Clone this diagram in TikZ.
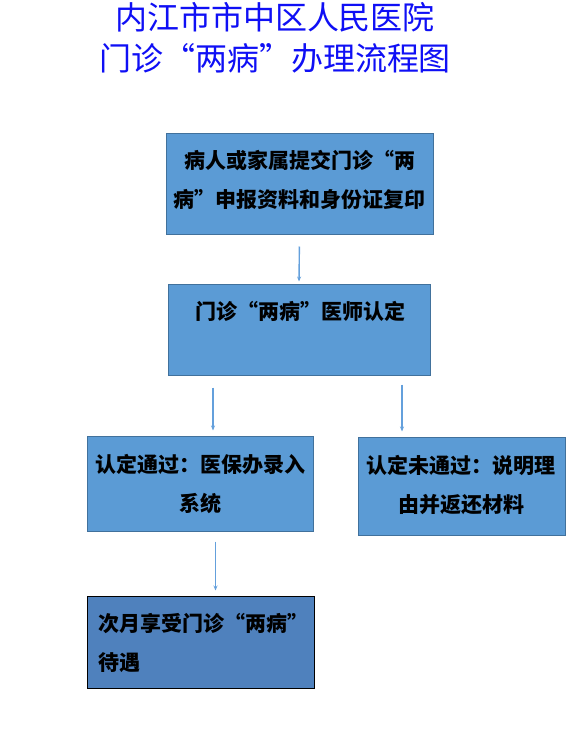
\documentclass[tikz,border=0pt]{standalone}
\usepackage{fontspec}
\newfontfamily\cjk{Noto Sans CJK SC}
\definecolor{boxfill}{RGB}{91,155,213}
\definecolor{boxline}{RGB}{65,113,156}
\definecolor{darkfill}{RGB}{79,129,189}
\definecolor{arrcol}{RGB}{100,160,220}
\definecolor{titleblue}{RGB}{15,15,245}
\usetikzlibrary{arrows.meta}
\begin{document}
\begin{tikzpicture}[x=1pt,y=-1pt,
  box/.style={draw=boxline,line width=1pt,fill=boxfill,inner sep=0},
  boxtxt/.style={inner sep=0,align=center,font=\cjk\bfseries\fontsize{21}{39}\selectfont,text=black},
  arr/.style={draw=arrcol,line width=1.4pt,-{Stealth[length=5pt,width=4pt]}}]
\useasboundingbox (0,0) rectangle (573,747);
% title
\node[inner sep=0,align=center,text=titleblue,font=\cjk\fontsize{32}{41}\selectfont] (title) at (275,37.5)
  {内江市市中区人民医院\\门诊“两病”办理流程图};
% boxes
\node[box,minimum width=267,minimum height=101] (b1) at (299.5,183.5) {};
\node[box,minimum width=262,minimum height=91] (b2) at (299,329.5) {};
\node[box,minimum width=226,minimum height=95] (b3) at (200,483.5) {};
\node[box,minimum width=207,minimum height=98] (b4) at (461.5,486) {};
\node[box,draw=black,fill=darkfill,minimum width=227,minimum height=92] (b5) at (200.5,642) {};
% texts
\node[boxtxt] (t1) at (299.5,179.5) {病人或家属提交门诊“两\\病”申报资料和身份证复印};
\node[boxtxt] (t2) at (300,311) {门诊“两病”医师认定};
\node[boxtxt] (t3) at (200,483.5) {认定通过：医保办录入\\系统};
\node[boxtxt] (t4) at (461,485) {认定未通过：说明理\\由并返还材料};
\node[boxtxt,align=left,anchor=west] (t5) at (98,642.5) {次月享受门诊“两病”\\待遇};
% arrows
\draw[arr,shorten <=12pt,shorten >=2pt] (b1.south) -- (b2.north);
\draw[arr,shorten <=12pt,shorten >=5pt] ([xshift=13pt]b3.north |- b2.south) -- ([xshift=13pt]b3.north);
\draw[arr,shorten <=9pt,shorten >=5pt] ([xshift=-59.5pt]b4.north |- b2.south) -- ([xshift=-59.5pt]b4.north);
\draw[arr,shorten <=10pt,shorten >=5pt] ([xshift=15.5pt]b3.south) -- ([xshift=15.5pt]b3.south |- b5.north);
\end{tikzpicture}
\end{document}
